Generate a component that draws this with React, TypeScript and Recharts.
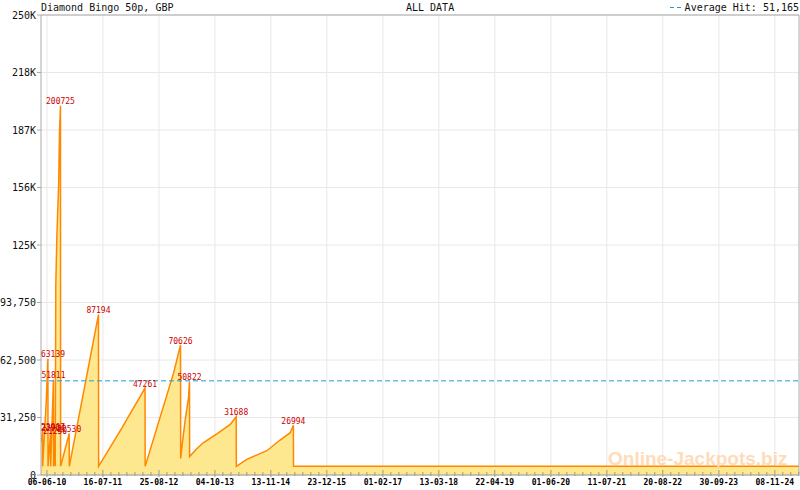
import React from 'react';
import { AreaChart, Area, XAxis, YAxis, CartesianGrid, ReferenceLine, LabelList } from 'recharts';

// jackpot level over time (sawtooth: grows, then drops when hit)
const pointDates = [
  '2010-04-24', '2010-05-05', '2010-05-06', '2010-06-01', '2010-06-13', '2010-06-14',
  '2010-07-02', '2010-07-03', '2010-07-23', '2010-07-24', '2010-08-04', '2010-08-05',
  '2010-08-09', '2010-08-17', '2010-08-30', '2010-09-05', '2010-09-12', '2010-09-13',
  '2010-11-14', '2010-11-15', '2011-06-14', '2011-06-15', '2011-11-30', '2012-05-16',
  '2012-05-17', '2012-12-09', '2013-01-28', '2013-01-29', '2013-02-08', '2013-03-03',
  '2013-03-27', '2013-04-03', '2013-04-04', '2013-05-22', '2013-07-11', '2013-10-21',
  '2014-01-23', '2014-03-07', '2014-03-08', '2014-05-23', '2014-10-15', '2015-01-19',
  '2015-04-02', '2015-04-25', '2015-04-26', '2025-05-02',
];
const pointValues = [
  18000, 23907, 4700, 40000, 63139, 4700,
  22914, 4700, 51811, 4700, 21250, 4700,
  102700, 130000, 158700, 186600, 200725, 4700,
  22530, 4700, 87194, 4700, 25500, 47261,
  4700, 55500, 70626, 9000, 16000, 30000,
  42000, 50822, 10000, 14000, 17500, 22500,
  27500, 31688, 4700, 8500, 13200, 19000,
  23000, 26994, 4700, 4700,
];
// dates where the jackpot was hit (labelled in red)
const hitDates = [
  '2010-05-05', '2010-06-13', '2010-07-02', '2010-07-23', '2010-08-04', '2010-09-12',
  '2010-11-14', '2011-06-14', '2012-05-16', '2013-01-28', '2013-04-03', '2014-03-07',
  '2015-04-25',
];

const averageHit = 51165;

const xTickDates = [
  '2010-06-06', '2011-07-16', '2012-08-25', '2013-10-04', '2014-11-13', '2015-12-23',
  '2017-02-01', '2018-03-13', '2019-04-22', '2020-06-01', '2021-07-11', '2022-08-20',
  '2023-09-30', '2024-11-08',
];
const xDomainDates = ['2010-04-24', '2025-05-02'];

const yTickValues = [0, 31250, 62500, 93750, 125000, 156250, 187500, 218750, 250000];
const yTickLabels = ['0', '31,250', '62,500', '93,750', '125K', '156K', '187K', '218K', '250K'];

const toMs = (d: string) => Date.parse(d + 'T00:00:00Z');
const DAY = 86400000;

const data = pointDates.map((d, i) => ({
  t: toMs(d),
  v: pointValues[i],
  hit: hitDates.includes(d) ? pointValues[i] : null,
}));

const majorTicks = xTickDates.map(toMs);
const domain = [toMs(xDomainDates[0]), toMs(xDomainDates[1])];

// 7 minor divisions between labelled dates
const minorStep = (405 / 7) * DAY;
const allTicks: number[] = [];
for (let t = majorTicks[0] - minorStep; t >= domain[0]; t -= minorStep) allTicks.unshift(t);
majorTicks.forEach((m, i) => {
  allTicks.push(m);
  const next = majorTicks[i + 1];
  if (next !== undefined) {
    for (let k = 1; k < 7; k++) allTicks.push(m + ((next - m) * k) / 7);
  } else {
    for (let t = m + minorStep; t <= domain[1]; t += minorStep) allTicks.push(t);
  }
});

const MONO = '"DejaVu Sans Mono", monospace';
const PLOT_LEFT = 41;

const fmtDate = (ms: number) => {
  const d = new Date(ms);
  const p = (n: number) => String(n).padStart(2, '0');
  return `${p(d.getUTCDate())}-${p(d.getUTCMonth() + 1)}-${p(d.getUTCFullYear() % 100)}`;
};

function XTick(props: any) {
  const { x, y, payload } = props;
  const major = majorTicks.includes(payload.value);
  return (
    <g>
      <line x1={x} x2={x} y1={y - (major ? 5 : 3)} y2={y + (major ? 2 : 1)} stroke="#999" />
      {major && (
        <text x={x} y={y + 10} textAnchor="middle" fontSize={8} fontWeight="bold" fontFamily={MONO} fill="#000">
          {fmtDate(payload.value)}
        </text>
      )}
    </g>
  );
}

function HitLabel(props: any) {
  const { x, y, value } = props;
  if (value == null) return null;
  const text = String(value);
  const w = text.length * 4.8;
  let cx = x;
  if (cx - w / 2 < PLOT_LEFT) cx = PLOT_LEFT + w / 2;
  return (
    <text x={cx} y={y - 1.5} textAnchor="middle" fontSize={8} fontFamily={MONO} fill="#cc0000">
      {text}
    </text>
  );
}

export default function App() {
  return (
    <div style={{ position: 'absolute', left: 0, top: 0, width: 800, height: 490, background: '#fff' }}>
      <AreaChart width={800} height={490} data={data} margin={{ top: 15, right: 1, bottom: 0, left: 0 }}>
        <CartesianGrid stroke="#e8e8e8" verticalValues={majorTicks} horizontalValues={yTickValues} />
        <XAxis
          dataKey="t"
          type="number"
          domain={domain}
          ticks={allTicks}
          interval={0}
          height={15}
          tickSize={0}
          tickMargin={0}
          tickLine={false}
          tick={<XTick />}
          axisLine={{ stroke: '#999' }}
          allowDataOverflow
        />
        <YAxis
          type="number"
          domain={[0, 250000]}
          ticks={yTickValues}
          interval={0}
          width={41}
          tickSize={4}
          tickMargin={1}
          tickLine={{ stroke: '#aaa' }}
          axisLine={{ stroke: '#aaa' }}
          tick={{ fontSize: 10, fontFamily: MONO, fill: '#111' }}
          tickFormatter={(v: number) => yTickLabels[yTickValues.indexOf(v)]}
          allowDataOverflow
        />
        <ReferenceLine y={250000} stroke="#aaa" />
        <ReferenceLine x={domain[1]} stroke="#aaa" />
        <Area
          type="linear"
          dataKey="v"
          stroke="#ff8800"
          strokeWidth={1.5}
          fill="#fde88f"
          fillOpacity={1}
          isAnimationActive={false}
          dot={false}
          activeDot={false}
        >
          <LabelList dataKey="hit" content={<HitLabel />} />
        </Area>
        <ReferenceLine y={averageHit} stroke="#1f9bd7" strokeDasharray="5 3" />
      </AreaChart>
      <svg width={800} height={490} style={{ position: 'absolute', left: 0, top: 0, pointerEvents: 'none' }}>
        <text x={608} y={465} fontSize={19} fontWeight="bold" fontFamily='"Liberation Sans", Arial, sans-serif' fill="#ffd6ad" opacity={0.85}>
          Online-Jackpots.biz
        </text>
        <text x={41} y={11} fontSize={10} fontFamily={MONO} fill="#111">Diamond Bingo 50p, GBP</text>
        <text x={406} y={11} fontSize={10} fontFamily={MONO} fill="#111">ALL DATA</text>
        <line x1={670} x2={684} y1={7.5} y2={7.5} stroke="#1f9bd7" strokeDasharray="4 3" />
        <text x={799} y={11} textAnchor="end" fontSize={10} fontFamily={MONO} fill="#111">
          Average Hit: 51,165
        </text>
      </svg>
    </div>
  );
}
